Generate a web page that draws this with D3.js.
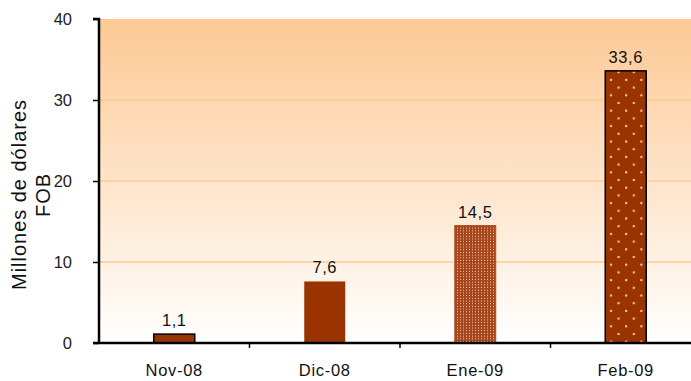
<!DOCTYPE html>
<html>
<head>
<meta charset="utf-8">
<script src="https://cdn.jsdelivr.net/npm/d3@7"></script>
<style>
  html, body { margin: 0; padding: 0; background: #fff; }
  svg { display: block; font-family: Arial, "Liberation Sans", sans-serif; }
</style>
</head>
<body>
<div id="chart"></div>
<script>
const W = 691, H = 381;
const M = { left: 99, top: 19, right: -10, bottom: 38 };

const categories = ['Nov-08', 'Dic-08', 'Ene-09', 'Feb-09'];
const values = [1.1, 7.6, 14.5, 33.6];
const valueLabels = ['1,1', '7,6', '14,5', '33,6'];
const yTicks = [0, 10, 20, 30, 40];
const fills = ['plain', 'plain', 'dense', 'sparse'];
const outlined = [true, false, false, true];

const BAR = '#993300';
const FONT = 'Arial, "Liberation Sans", sans-serif';

const svg = d3.select('#chart').append('svg')
  .attr('width', W).attr('height', H);

const defs = svg.append('defs');

const grad = defs.append('linearGradient')
  .attr('id', 'bg').attr('x1', 0).attr('y1', 0).attr('x2', 0).attr('y2', 1);
grad.append('stop').attr('offset', '0%').attr('stop-color', '#fdc994');
grad.append('stop').attr('offset', '100%').attr('stop-color', '#ffffff');

// dense dot pattern
const pDense = defs.append('pattern')
  .attr('id', 'dense').attr('patternUnits', 'userSpaceOnUse')
  .attr('width', 3).attr('height', 2.7);
pDense.append('rect').attr('width', 3).attr('height', 2.7).attr('fill', '#a8441a');
pDense.append('rect').attr('x', 1).attr('y', 0.8).attr('width', 1).attr('height', 1).attr('fill', '#f3d2bd');

// sparse staggered dots
const pSparse = defs.append('pattern')
  .attr('id', 'sparse').attr('patternUnits', 'userSpaceOnUse')
  .attr('width', 15.2).attr('height', 15.4);
pSparse.append('rect').attr('width', 15.2).attr('height', 15.4).attr('fill', BAR);
[[3, 3], [10.6, 10.7]].forEach(([cx, cy]) => {
  pSparse.append('circle').attr('cx', cx).attr('cy', cy).attr('r', 1.2).attr('fill', '#e9b79c');
  pSparse.append('circle').attr('cx', cx).attr('cy', cy).attr('r', 0.6).attr('fill', '#ffffff');
});

const x = d3.scaleBand().domain(categories).range([M.left, W - M.right]);
const y = d3.scaleLinear().domain([0, 40]).range([H - M.bottom, M.top]);

// plot background
svg.append('rect')
  .attr('x', M.left).attr('y', y(40))
  .attr('width', W - M.left).attr('height', y(0) - y(40))
  .attr('fill', 'url(#bg)');

// gridlines
svg.append('g').selectAll('line')
  .data(yTicks.filter(d => d > 0 && d < 40))
  .join('line')
  .attr('x1', M.left).attr('x2', W)
  .attr('y1', d => y(d)).attr('y2', d => y(d))
  .attr('stroke', '#fdc894').attr('stroke-width', 1.5);

// bars
const bw = 41;
const bars = svg.append('g');
categories.forEach((c, i) => {
  const bx = x(c) + x.bandwidth() / 2 - bw / 2;
  const fill = fills[i] === 'dense' ? 'url(#dense)' : fills[i] === 'sparse' ? 'url(#sparse)' : BAR;
  bars.append('rect')
    .attr('x', bx).attr('y', y(values[i]))
    .attr('width', bw).attr('height', y(0) - y(values[i]))
    .attr('fill', fill)
    .attr('stroke', outlined[i] ? '#000' : (fills[i] === 'dense' ? '#b0502a' : 'none'))
    .attr('stroke-width', outlined[i] ? 1.5 : 1);
  svg.append('text')
    .attr('x', x(c) + x.bandwidth() / 2)
    .attr('y', y(values[i]) - 8)
    .attr('text-anchor', 'middle')
    .attr('font-size', 16.5)
    .attr('letter-spacing', 0.6)
    .attr('fill', '#111')
    .text(valueLabels[i]);
});

// y axis
const yAxis = d3.axisLeft(y).tickValues(yTicks).tickSize(6).tickPadding(21).tickFormat(d3.format('d'));
const gy = svg.append('g').attr('transform', `translate(${M.left},0)`).call(yAxis);
gy.select('.domain').attr('stroke', '#000').attr('stroke-width', 2.5).attr('d', `M-6,${y(40)}H0V${y(0)}`);
gy.selectAll('.tick line').attr('stroke', '#000').attr('stroke-width', 1.5);
gy.selectAll('.tick text').attr('font-size', 16.5).attr('fill', '#222').attr('font-family', FONT);

// x axis
const xAxis = d3.axisBottom(x).tickSize(0).tickPadding(21);
const gx = svg.append('g').attr('transform', `translate(0,${y(0)})`).call(xAxis);
gx.select('.domain').remove();
gx.selectAll('.tick text').attr('font-size', 16.5).attr('letter-spacing', 0.7).attr('fill', '#111').attr('font-family', FONT);
svg.append('line')
  .attr('x1', M.left - 6).attr('x2', W)
  .attr('y1', y(0)).attr('y2', y(0))
  .attr('stroke', '#000').attr('stroke-width', 2.5);
// category boundary ticks
svg.append('g').selectAll('line')
  .data(categories.slice(1))
  .join('line')
  .attr('x1', d => x(d)).attr('x2', d => x(d))
  .attr('y1', y(0)).attr('y2', y(0) + 5)
  .attr('stroke', '#000').attr('stroke-width', 1.5);

// y label
const yMid = (y(0) + y(40)) / 2 + 14;
const yl = svg.append('text')
  .attr('transform', `translate(26,${yMid}) rotate(-90)`)
  .attr('text-anchor', 'middle')
  .attr('font-size', 20)
  .attr('fill', '#111');
yl.append('tspan').attr('x', 0).attr('y', 0)
  .attr('textLength', 190).attr('lengthAdjust', 'spacing')
  .text('Millones de dólares');
yl.append('tspan').attr('x', 0).attr('y', 24).attr('letter-spacing', 1).text('FOB');
</script>
</body>
</html>
